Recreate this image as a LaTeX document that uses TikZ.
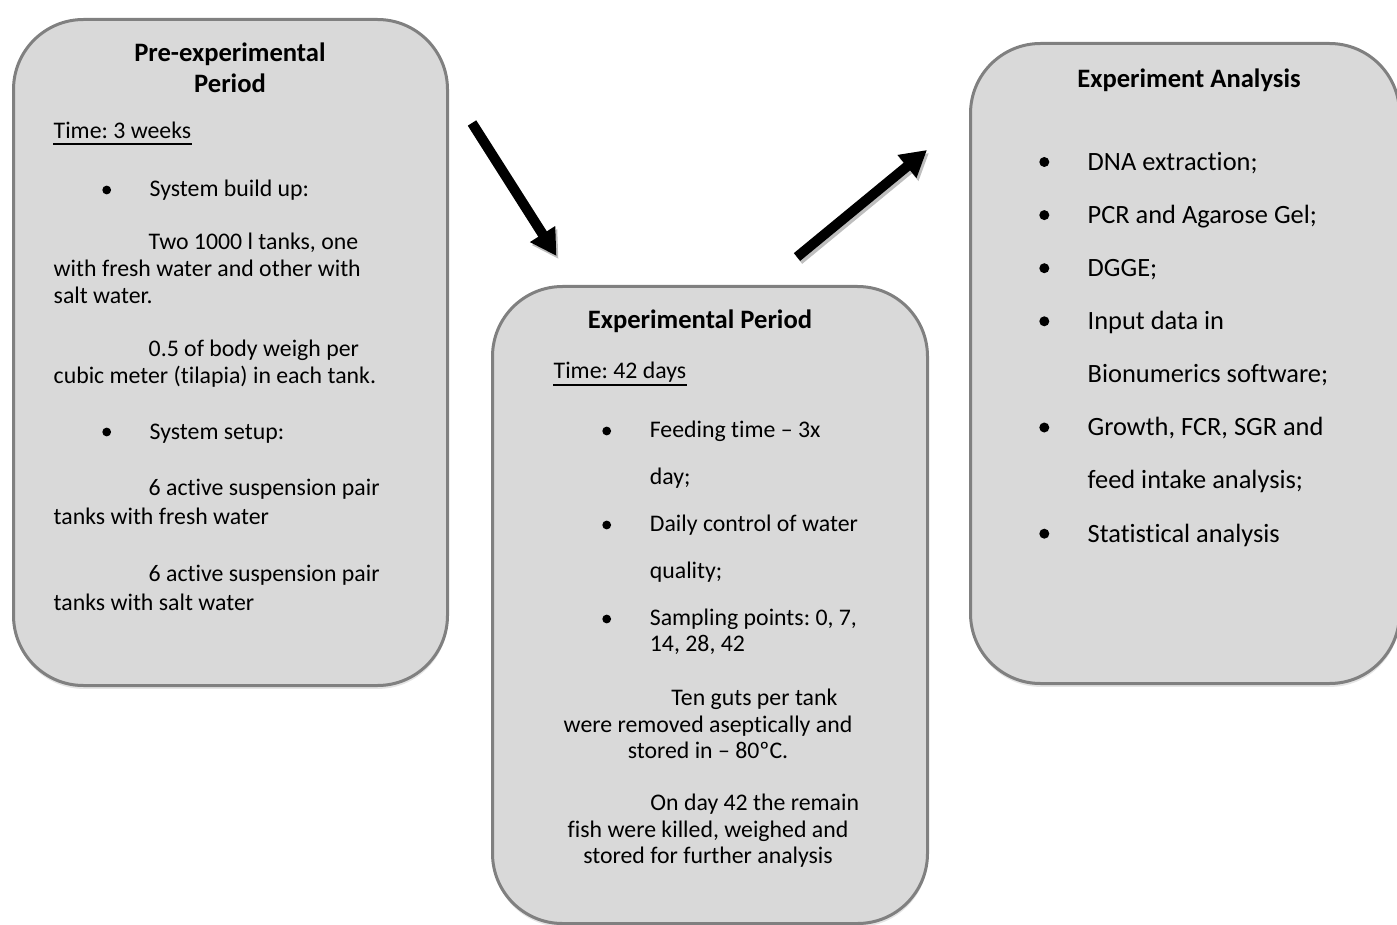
\documentclass[tikz,border=0pt]{standalone}
\usepackage{fontspec}
\setmainfont{Carlito}[Ligatures=NoCommon]
\usetikzlibrary{arrows.meta}
\definecolor{boxfill}{RGB}{217,217,217}
\definecolor{boxline}{RGB}{128,128,128}
\definecolor{shadeA}{RGB}{196,196,196}
\definecolor{shadeB}{RGB}{228,228,228}
\definecolor{arrowshade}{RGB}{190,190,190}
\begin{document}
\frenchspacing
\begin{tikzpicture}[x=0.5pt,y=-0.5pt,
  panel/.style={draw=boxline, line width=1.5pt, fill=boxfill, rounded corners=35pt,
    inner sep=0pt, anchor=north west},
  panelshadowA/.style={fill=shadeA, rounded corners=35pt, inner sep=0pt, anchor=north west},
  panelshadowB/.style={fill=shadeB, rounded corners=35pt, inner sep=0pt, anchor=north west},
  txt/.style={anchor=base west, inner sep=0pt, font=\fontsize{11.9}{14}\selectfont},
  txtc/.style={anchor=base, inner sep=0pt, font=\fontsize{11.9}{14}\selectfont},
  txtl/.style={anchor=base west, inner sep=0pt, font=\fontsize{13.2}{15}\selectfont},
  ttl/.style={anchor=base, inner sep=0pt, font=\bfseries\fontsize{13.3}{16}\selectfont},
  bigarrow/.style={line width=5pt, -{Triangle[length=13pt,width=14pt]}},
  arrowshadow/.style={bigarrow, draw=arrowshade, -{Triangle[length=13pt,width=14pt,fill=arrowshade]}},
  uline/.style={line width=0.9pt}
]
\useasboundingbox (0,0) rectangle (1397,925);

% ---------- shadows ----------
\node[panelshadowB, minimum width=217pt, minimum height=333pt] (s1b) at (13.5,22.5) {};
\node[panelshadowA, minimum width=217pt, minimum height=333pt] (s1a) at (13,20.5) {};
\node[panelshadowB, minimum width=217.5pt, minimum height=318.5pt] (s2b) at (492.5,289.5) {};
\node[panelshadowA, minimum width=217.5pt, minimum height=318.5pt] (s2a) at (492,287.5) {};
\node[panelshadowB, minimum width=214.5pt, minimum height=320pt] (s3b) at (970.5,46.5) {};
\node[panelshadowA, minimum width=214.5pt, minimum height=320pt] (s3a) at (970,44.5) {};

% ---------- panels ----------
\node[panel, minimum width=217pt, minimum height=333pt] (pre) at (12,18) {};
\node[panel, minimum width=217.5pt, minimum height=318.5pt] (exp) at (491,285) {};
\node[panel, minimum width=214.5pt, minimum height=320pt] (ana) at (969,42) {};

% ---------- panel 1 ----------
\node[ttl] (p1t1) at (230,62) {Pre-experimental};
\node[ttl] (p1t2) at (230,92.7) {Period};
\node[txt] (p1time) at (53.3,138.7) {Time: 3 weeks};
\draw[uline] ([yshift=-2.6pt]p1time.base west) -- ([yshift=-2.6pt]p1time.base east);
\fill (106.7,190) circle[radius=2.2pt];
\node[txt] (p1b1) at (149.3,197) {System build up:};
\node[txt] (p1l1) at (148.3,249.7) {Two 1000 l tanks, one};
\node[txt] (p1l2) at (53.3,276.3) {with fresh water and other with};
\node[txt] (p1l3) at (53.3,303) {salt water.};
\node[txt] (p1l4) at (148.3,356.3) {0.5 of body weigh per};
\node[txt] (p1l5) at (53.3,383) {cubic meter (tilapia) in each tank.};
\fill (106.7,432) circle[radius=2.2pt];
\node[txt] (p1b2) at (149.3,439.3) {System setup:};
\node[txt] (p1l6) at (148.3,495) {6 active suspension pair};
\node[txt] (p1l7) at (53.3,524) {tanks with fresh water};
\node[txt] (p1l8) at (148.3,581.3) {6 active suspension pair};
\node[txt] (p1l9) at (53.3,610.3) {tanks with salt water};

% ---------- panel 2 ----------
\node[ttl] (p2t) at (700,328.7) {Experimental Period};
\node[txt] (p2time) at (553.3,378.7) {Time: 42 days};
\draw[uline] ([yshift=-3pt]p2time.base west) -- ([yshift=-3pt]p2time.base east);
\fill (606.7,431) circle[radius=2.2pt];
\node[txt] (p2b1) at (649.5,437.5) {Feeding time – 3x};
\node[txt] (p2b1b) at (649.5,484.5) {day;};
\fill (606.7,525) circle[radius=2.2pt];
\node[txt] (p2b2) at (649.5,531.5) {Daily control of water};
\node[txt] (p2b2b) at (649.5,578.5) {quality;};
\fill (606.7,619) circle[radius=2.2pt];
\node[txt] (p2b3) at (649.5,625.5) {Sampling points: 0, 7,};
\node[txt] (p2b3b) at (649.5,651.5) {14, 28, 42};
\node[txt] (p2l1) at (671,705.3) {Ten guts per tank};
\node[txtc] (p2l2) at (708,732) {were removed aseptically and};
\node[txtc] (p2l3) at (708,758) {stored in – 80ºC.};
\node[txt] (p2l4) at (650,810.3) {On day 42 the remain};
\node[txtc] (p2l5) at (708,837) {fish were killed, weighed and};
\node[txtc] (p2l6) at (708,863.7) {stored for further analysis};

% ---------- panel 3 ----------
\node[ttl] (p3t) at (1189,87.5) {Experiment Analysis};
\foreach \k in {0,1,2,3,5,7} {
  \fill (1044.3,{162+53.1*\k}) circle[radius=2.5pt];
}
\node[txtl] (p3a) at (1087.3,170.3) {DNA extraction;};
\node[txtl] (p3b) at (1087.3,223.4) {PCR and Agarose Gel;};
\node[txtl] (p3c) at (1087.3,276.5) {DGGE;};
\node[txtl] (p3d) at (1087.3,329.6) {Input data in};
\node[txtl] (p3e) at (1087.3,382.7) {Bionumerics software;};
\node[txtl] (p3f) at (1087.3,435.8) {Growth, FCR, SGR and};
\node[txtl] (p3g) at (1087.3,488.9) {feed intake analysis;};
\node[txtl] (p3h) at (1087.3,542) {Statistical analysis};

% ---------- arrows ----------
\coordinate (a1s) at (472,123);
\coordinate (a1e) at (556.5,256);
\coordinate (a2s) at (797,257);
\coordinate (a2e) at (927,150);
\coordinate (a1ss) at (474,126);
\coordinate (a1es) at (558.5,259);
\coordinate (a2ss) at (799,260);
\coordinate (a2es) at (929,153);
\draw[arrowshadow] (a1ss) -- (a1es);
\draw[arrowshadow] (a2ss) -- (a2es);
\draw[bigarrow] (a1s) -- (a1e);
\draw[bigarrow] (a2s) -- (a2e);
\end{tikzpicture}
\end{document}
